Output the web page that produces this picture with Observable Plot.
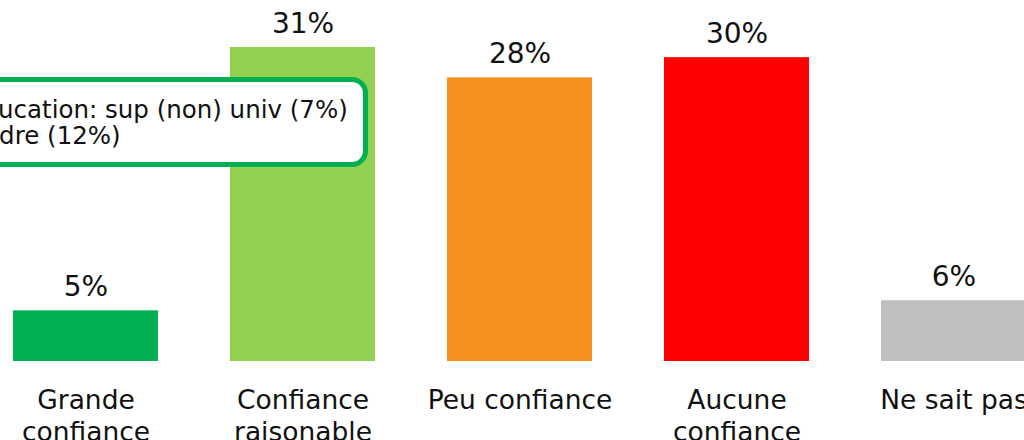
<!DOCTYPE html>
<html>
<head>
<meta charset="utf-8">
<script src="https://cdn.jsdelivr.net/npm/d3@7"></script>
<script src="https://cdn.jsdelivr.net/npm/@observablehq/plot@0.6"></script>
<style>
  html, body { margin: 0; padding: 0; background: #fff; }
  #wrap { position: relative; width: 1024px; height: 440px; overflow: hidden; font-family: "DejaVu Sans", Verdana, sans-serif; }
  #note {
    position: absolute; left: -40px; top: 77px; width: 398px; height: 80px;
    border: 5px solid #00b050; border-radius: 16px; background: #fff;
    font-size: 24.5px; line-height: 26px; color: #111; box-sizing: content-box;
  }
  #note div { position: absolute; left: 2px; white-space: nowrap; }
</style>
</head>
<body>
<div id="wrap"></div>
<script>
const categories = ["Grande\nconfiance", "Confiance\nraisonable", "Peu confiance", "Aucune\nconfiance", "Ne sait pas"];
const values = [5, 31, 28, 30, 6];
const colors = ["#00b050", "#92d050", "#f5921f", "#ff0000", "#bfbfbf"];
const noteLines = ["Éducation: sup (non) univ (7%)", "Cadre (12%)"];

const data = categories.map((c, i) => ({cat: c, value: values[i], color: colors[i]}));

const chart = Plot.plot({
  width: 1024,
  height: 440,
  marginTop: 47,
  marginBottom: 79,
  marginLeft: 0,
  marginRight: 0,
  style: {fontFamily: "DejaVu Sans, Verdana, sans-serif", background: "#fff", color: "#111"},
  x: {domain: categories, range: [12, 1027], paddingInner: 1/3, paddingOuter: 0, label: null},
  y: {domain: [0, 31], axis: null},
  marks: [
    Plot.barY(data, {x: "cat", y: "value", fill: "color"}),
    Plot.text(data, {x: "cat", y: "value", text: d => d.value + "%", dy: -15, lineAnchor: "bottom", fontSize: 28, fill: "#111"}),
    Plot.axisX({tickSize: 0, tickPadding: 25, fontSize: 26.5, lineHeight: 1.2, fill: "#111", label: null})
  ]
});

const wrap = document.getElementById("wrap");
wrap.appendChild(chart);
const note = document.createElement("div");
note.id = "note";
noteLines.forEach((t, i) => {
  const d = document.createElement("div");
  d.textContent = t;
  d.style.top = (15 + i * 26) + "px";
  note.appendChild(d);
});
wrap.appendChild(note);
</script>
</body>
</html>
